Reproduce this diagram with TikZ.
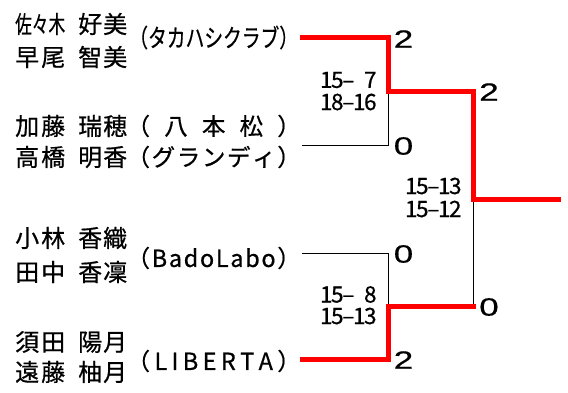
\documentclass[tikz,border=0pt]{standalone}
\usepackage{fontspec}
\usepackage{graphicx}
\setmainfont{Noto Sans CJK JP}[FakeBold=0.6]
\newfontfamily\numfont{Liberation Sans}[FakeBold=0.5]
\newcommand\nmbox[2]{\makebox[50pt][s]{#1}\hspace{13pt}\makebox[49pt][s]{#2}}
\newcommand\tmbox[1]{\makebox[147pt][s]{#1}}
\newcommand\tmfit[1]{\resizebox{147pt}{\height}{#1}}
\newcommand\lp{\makebox[0.42em][r]{（}}
\newcommand\rp{\makebox[0.42em][l]{）}}
\newcommand\cb[1]{\makebox[11pt]{#1}}
\newcommand\resno[1]{\scalebox{1.4}[1]{#1}}
\tikzset{
  namelbl/.style={anchor=west, inner sep=0pt, font=\fontsize{24}{24}\selectfont},
  teamlbl/.style={anchor=west, inner sep=0pt, font=\fontsize{23.5}{23.5}\selectfont},
  setlbl/.style={anchor=east, inner sep=0pt, font=\fontsize{22.5}{22.5}\selectfont},
  reslbl/.style={anchor=center, inner sep=0pt, font=\numfont\fontsize{25}{25}\selectfont},
  winline/.style={draw=red, line width=5pt, line join=miter, line cap=rect},
  loseline/.style={draw=black, line width=1pt},
}
\begin{document}
\begin{tikzpicture}[x=1pt,y=-1pt]
\useasboundingbox[fill=white] (0,0) rectangle (568,392);

% names
\node[namelbl] (n1a) at (15,24) {\nmbox{\resizebox{50pt}{\height}{佐々木}}{好\hfill 美}};
\node[namelbl] (n1b) at (15,57) {\nmbox{早\hfill 尾}{智\hfill 美}};
\node[namelbl] (n2a) at (15,126) {\nmbox{加\hfill 藤}{瑞\hfill 穂}};
\node[namelbl] (n2b) at (15,157) {\nmbox{高\hfill 橋}{明\hfill 香}};
\node[namelbl] (n3a) at (15,238) {\nmbox{小\hfill 林}{香\hfill 織}};
\node[namelbl] (n3b) at (15,272) {\nmbox{田\hfill 中}{香\hfill 凜}};
\node[namelbl] (n4a) at (15,342) {\nmbox{須\hfill 田}{陽\hfill 月}};
\node[namelbl] (n4b) at (15,372) {\nmbox{遠\hfill 藤}{柚\hfill 月}};

% teams
\node[teamlbl,font=\fontsize{25}{25}\selectfont] (t1) at (140,37.5) {\tmfit{\lp タカハシクラブ\rp}};
\node[teamlbl] (t2a) at (140,126) {\tmbox{\lp\hfill 八\hfill 本\hfill 松\hfill\rp}};
\node[teamlbl] (t2b) at (140,157) {\tmbox{\lp\hfill グ\hfill ラ\hfill ン\hfill デ\hfill ィ\hfill\rp}};
\node[teamlbl] (t3) at (140,258) {\tmbox{\lp\hfill B\hfill a\hfill d\hfill o\hfill L\hfill a\hfill b\hfill o\hfill\rp}};
\node[teamlbl] (t4) at (140,361) {\tmbox{\lp\hfill L\hfill I\hfill B\hfill E\hfill R\hfill T\hfill A\hfill\rp}};

% bracket coordinates
\coordinate (a1) at (302,37.5);
\coordinate (a2) at (388,37.5);
\coordinate (m1) at (388,91.5);
\coordinate (b1) at (302,145);
\coordinate (b2) at (388,145);
\coordinate (c1) at (302,253.5);
\coordinate (c2) at (388,253.5);
\coordinate (d1) at (302,359.5);
\coordinate (d2) at (388,359.5);
\coordinate (m2) at (388,306.5);
\coordinate (f1) at (473.5,91.5);
\coordinate (f2) at (473.5,306.5);
\coordinate (fm) at (473.5,199);
\coordinate (w) at (558,199);

% losing lines
\draw[loseline] (b1) -- (b2) -- (m1);
\draw[loseline] (c1) -- (c2) -- (m2);
\draw[loseline] (fm) -- (f2);

% winning lines
\draw[winline] (a1) -- (a2) -- (m1) -- (f1) -- (fm) -- (w);
\draw[winline] (d1) -- (d2) -- (m2) -- (f2);

% set scores
\node[setlbl] (s1a) at (376,80) {\cb1\cb5\cb{–}\cb{}\cb7};
\node[setlbl] (s1b) at (376,102) {\cb1\cb8\cb{–}\cb1\cb6};
\node[setlbl] (s2a) at (376,294.5) {\cb1\cb5\cb{–}\cb{}\cb8};
\node[setlbl] (s2b) at (376,316) {\cb1\cb5\cb{–}\cb1\cb3};
\node[setlbl] (s3a) at (461,186) {\cb1\cb5\cb{–}\cb1\cb3};
\node[setlbl] (s3b) at (461,209) {\cb1\cb5\cb{–}\cb1\cb2};

% match results
\node[reslbl] (r1) at (403.5,39) {\resno{2}};
\node[reslbl] (r2) at (403.5,146) {\resno{0}};
\node[reslbl] (r3) at (403.5,254) {\resno{0}};
\node[reslbl] (r4) at (403.5,360) {\resno{2}};
\node[reslbl] (r5) at (489,92) {\resno{2}};
\node[reslbl] (r6) at (489,307) {\resno{0}};
\end{tikzpicture}
\end{document}
